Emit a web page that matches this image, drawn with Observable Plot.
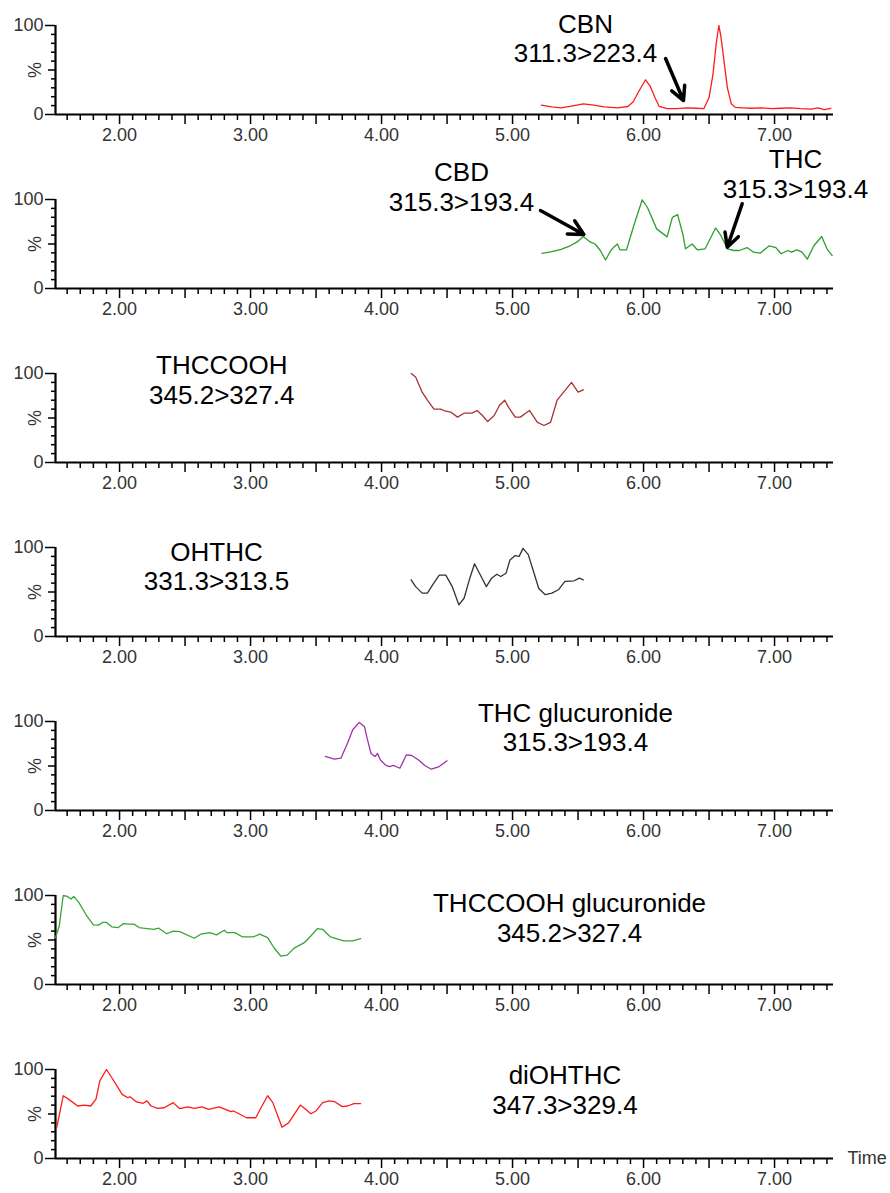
<!DOCTYPE html>
<html>
<head>
<meta charset="utf-8">
<script src="https://cdn.jsdelivr.net/npm/d3@7"></script>
<script src="https://cdn.jsdelivr.net/npm/@observablehq/plot@0.6"></script>
<style>
  html, body { margin: 0; padding: 0; background: #fff; }
  #chart { width: 890px; height: 1193px; overflow: hidden; }
  #chart svg { display: block; }
</style>
</head>
<body>
<div id="chart"></div>
<script>
// ---------- data ----------
const xDomain = [1.511, 7.45];
const majorTicks = [2, 3, 4, 5, 6, 7];
const halfTicks = [2.5, 3.5, 4.5, 5.5, 6.5];
const yTickLabels = [0, 100];

// CBN 311.3>223.4 (red)
const cbnTime = [5.22,5.30,5.37,5.45,5.54,5.62,5.70,5.80,5.88,5.92,5.96,6.015,6.05,6.09,6.12,6.18,6.25,6.33,6.40,6.46,6.50,6.53,6.555,6.575,6.59,6.61,6.64,6.67,6.70,6.76,6.82,6.90,6.98,7.05,7.12,7.20,7.28,7.33,7.38,7.43];
const cbnInt  = [10.5,8.5,7.5,9.5,12,10.5,8.5,7.5,9,14,25,39,32,18,9,6.5,6.5,7.5,7,6.5,19,45,80,100,88,65,30,12,8,7.5,7,7.5,6.5,7,7.5,6.5,6,7.5,5.5,7];

// CBD / THC 315.3>193.4 (green)
const thcTime = [5.225,5.30,5.37,5.44,5.50,5.54,5.595,5.63,5.67,5.71,5.75,5.77,5.80,5.82,5.87,5.93,5.99,6.03,6.10,6.18,6.22,6.26,6.30,6.32,6.37,6.41,6.47,6.55,6.59,6.64,6.69,6.73,6.79,6.84,6.89,6.96,7.01,7.05,7.10,7.13,7.17,7.21,7.25,7.30,7.36,7.40,7.44];
const thcInt  = [39.5,41.5,44,48,53,58.4,52,50,42.7,32,42.7,46,50,43.5,43.5,72.7,99.7,91,67,58,80,83,61,44.6,50,43.5,44.6,68,59.6,44.6,42.7,42.7,46,40.8,39.7,48,46,39,42.7,40.8,43.5,40.8,33,48,58.4,44.6,37];

// THCCOOH 345.2>327.4 (brown)
const thccoohTime = [4.226,4.26,4.31,4.35,4.40,4.45,4.49,4.53,4.58,4.63,4.69,4.73,4.77,4.81,4.86,4.90,4.94,4.97,5.02,5.06,5.11,5.13,5.19,5.24,5.29,5.34,5.39,5.45,5.50,5.54];
const thccoohInt  = [100,96,79,70,60,60,57.6,56.5,51,55.4,55.4,58.4,52.8,46,52.8,64,70,62,51,51,56.5,58.4,45,41.6,45,70,79,90,79,81.7];

// OHTHC 331.3>313.5 (black)
const ohthcTime = [4.226,4.26,4.31,4.35,4.39,4.44,4.49,4.54,4.59,4.63,4.67,4.71,4.76,4.80,4.84,4.88,4.91,4.95,4.98,5.02,5.05,5.08,5.12,5.16,5.20,5.25,5.30,5.35,5.40,5.47,5.51,5.54];
const ohthcInt  = [63.7,56,48.7,48.7,58,69,69,56,35.6,43,63.7,81.7,67.4,56,65.5,70,67.4,71,86,91,90,99,92,73,54,47,48.7,52.5,62,62.6,65.5,63.7];

// THC glucuronide 315.3>193.4 (purple)
const thcGlucTime = [3.57,3.64,3.69,3.74,3.78,3.83,3.87,3.89,3.92,3.95,3.97,3.99,4.03,4.06,4.09,4.14,4.19,4.23,4.28,4.33,4.38,4.44,4.50];
const thcGlucInt  = [60.7,57.7,58.8,75.6,90.7,99,94,81,64,60.7,64,57,51,49.4,50.6,47.5,62.6,61.8,57,50.6,46.4,49.4,55.8];

// THCCOOH glucuronide 345.2>327.4 (green)
const thccoohGlucTime = [1.511,1.54,1.57,1.60,1.63,1.65,1.69,1.75,1.80,1.84,1.87,1.90,1.94,1.99,2.03,2.07,2.11,2.15,2.18,2.26,2.30,2.36,2.41,2.46,2.57,2.62,2.69,2.74,2.80,2.82,2.88,2.94,3.02,3.07,3.13,3.18,3.23,3.28,3.33,3.41,3.46,3.51,3.55,3.61,3.71,3.78,3.84];
const thccoohGlucInt  = [52.6,66,100,99,96,99,92,77,67,66.7,69.7,69.7,64.8,64,68.5,67.8,67.8,64,63.3,62,63.3,57,60,59.4,52,56.5,58.3,55.7,61,58.3,58.3,53.4,53.4,56.5,52.6,41,32,33,40.6,47,54.5,62.8,62,53.4,49,49,51.5];

// diOHTHC 347.3>329.4 (red)
const diohthcTime = [1.52,1.57,1.61,1.68,1.73,1.78,1.82,1.85,1.90,1.94,2.02,2.06,2.08,2.13,2.18,2.21,2.24,2.29,2.34,2.41,2.46,2.52,2.57,2.63,2.68,2.76,2.85,2.87,2.97,3.04,3.08,3.13,3.17,3.24,3.29,3.38,3.42,3.46,3.50,3.55,3.60,3.64,3.70,3.74,3.79,3.84];
const diohthcInt  = [34.4,70.5,66.7,59,60,59,66.7,87.5,100,91,72,68.5,69.3,63.6,62,64.8,59,56.4,57,62.8,56,58,56.4,58,55.3,58,52.6,53.4,45.8,45.8,57,70.5,62.8,35.2,40,60,55.3,50.3,53.4,62.8,64.8,64,58.3,59,61.7,61.7];

// annotation labels
const labelText = [
  "CBN\n311.3>223.4",
  "CBD\n315.3>193.4",
  "THC\n315.3>193.4",
  "THCCOOH\n345.2>327.4",
  "OHTHC\n331.3>313.5",
  "THC glucuronide\n315.3>193.4",
  "THCCOOH glucuronide\n345.2>327.4",
  "diOHTHC\n347.3>329.4"
];
const labelPanel = [0, 1, 1, 2, 3, 4, 5, 6];
const labelX = [5.557, 4.61, 7.16, 2.78, 2.74, 5.48, 5.435, 5.40];
const labelY = [86, 114.6, 129.2, 93.3, 79.2, 93.8, 75.3, 77.5];

// arrows
const arrowPanel = [0, 1, 1];
const arrowX1 = [6.168, 5.213, 6.753];
const arrowY1 = [62.9, 87.6, 95.2];
const arrowX2 = [6.305, 5.544, 6.639];
const arrowY2 = [15.7, 60.7, 46.4];

const seriesTime = [cbnTime, thcTime, thccoohTime, ohthcTime, thcGlucTime, thccoohGlucTime, diohthcTime];
const seriesInt  = [cbnInt, thcInt, thccoohInt, ohthcInt, thcGlucInt, thccoohGlucInt, diohthcInt];
const seriesColor = ["#ff1a1a", "#2e9e2e", "#a83232", "#333333", "#9e34a6", "#35a535", "#ff1a1a"];

// ---------- drawing ----------
const FONT = "'Liberation Sans', Arial, Helvetica, sans-serif";
const minorTicks = d3.range(16, 75).map(d => d / 10).filter(d => Math.abs(d * 2 - Math.round(d * 2)) > 1e-6);
const yMinor = [10, 20, 30, 40, 60, 70, 80, 90];
const chart = document.getElementById("chart");

for (let p = 0; p < 7; p++) {
  const last = p === 6;
  const h = last ? 149 : 174;
  const pts = seriesTime[p].map((t, i) => ({t, v: seriesInt[p][i]}));
  const labels = labelText.map((text, i) => ({text, x: labelX[i], y: labelY[i], p: labelPanel[i]})).filter(d => d.p === p);
  const arrows = arrowX1.map((x1, i) => ({x1, y1: arrowY1[i], x2: arrowX2[i], y2: arrowY2[i], p: arrowPanel[i]})).filter(d => d.p === p);

  const marks = [
    Plot.axisX({ticks: majorTicks, tickSize: 10, tickPadding: 4, tickFormat: d3.format(".2f"), fontSize: 18, fill: "#333", strokeWidth: 1.5, label: null}),
    Plot.axisX({ticks: halfTicks, tickSize: 10, tickFormat: () => "", strokeWidth: 1.5, label: null}),
    Plot.axisX({ticks: minorTicks, tickSize: 6, tickFormat: () => "", strokeWidth: 1.5, label: null}),
    Plot.axisY({ticks: yTickLabels, tickSize: 10, tickPadding: 2, tickFormat: d => String(d), fontSize: 18, fill: "#333", strokeWidth: 1.5, label: null}),
    Plot.axisY({ticks: [50], tickSize: 7, tickFormat: () => "", strokeWidth: 1.5, label: null}),
    Plot.axisY({ticks: yMinor, tickSize: 4, tickFormat: () => "", strokeWidth: 1.5, label: null}),
    Plot.ruleY([0], {stroke: "#000", strokeWidth: 2.2}),
    Plot.ruleX([xDomain[0]], {y1: 0, y2: 100, stroke: "#000", strokeWidth: 2.2}),
    Plot.text(["%"], {x: xDomain[0], y: 50, dx: -20, rotate: -90, fontSize: 18, fill: "#333"}),
    Plot.line(pts, {x: "t", y: "v", stroke: seriesColor[p], strokeWidth: 1.3}),
    Plot.text(labels, {x: "x", y: "y", text: "text", fontSize: 26, lineHeight: 1.14, fill: "#000"}),
    Plot.arrow(arrows, {x1: "x1", y1: "y1", x2: "x2", y2: "y2", stroke: "#000", strokeWidth: 3.5, headLength: 14, headAngle: 55})
  ];
  if (last) {
    marks.push(Plot.text(["Time"], {x: xDomain[1], y: 0, dx: 14, textAnchor: "start", fontSize: 18, fill: "#333"}));
  }

  const svg = Plot.plot({
    width: 890,
    height: h,
    marginLeft: 55,
    marginRight: 57,
    marginTop: 25,
    marginBottom: h - 114,
    x: {domain: xDomain},
    y: {domain: [0, 100]},
    style: {overflow: "visible", background: "transparent", fontFamily: FONT, position: "relative", zIndex: 7 - p},
    marks
  });
  chart.appendChild(svg);
}
</script>
</body>
</html>
